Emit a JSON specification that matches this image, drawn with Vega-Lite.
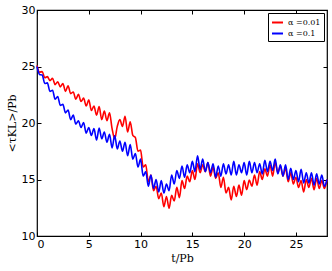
{
  "$schema": "https://vega.github.io/schema/vega-lite/v6.json",
  "width": 290,
  "height": 226,
  "autosize": {"type": "none"},
  "padding": {"left": 37, "top": 10, "right": 5, "bottom": 35},
  "background": "white",
  "config": {
    "view": {"stroke": "black", "strokeWidth": 1.2},
    "axis": {"grid": false, "domain": false, "tickColor": "black", "tickSize": -4, "labelColor": "black", "labelFont": "DejaVu Sans", "labelFontSize": 11, "titleFont": "DejaVu Serif", "titleFontSize": 11, "titleFontWeight": "normal", "titleColor": "black"}
  },
  "datasets": {
    "red": [
      [0,25.1],[0.25,24.5],[0.5,24.55],[0.75,24.0],[1,24.1],[1.25,23.75],[1.5,23.95],[1.75,23.4],[2,23.65],[2.25,23.2],[2.5,23.5],[2.75,22.8],[3,23.3],[3.25,22.6],[3.5,22.75],[3.75,22.1],[4,22.55],[4.25,21.9],[4.5,22.2],[4.75,21.5],[5,22.05],[5.25,21.1],[5.5,21.5],[5.75,20.7],[6,21.45],[6.25,20.3],[6.5,21.05],[6.75,20.2],[7,20.9],[7.25,19.5],[7.5,18.6],[7.75,19.7],[8,20.3],[8.25,19.7],[8.5,20.6],[8.75,19.2],[9,20.1],[9.25,18.9],[9.5,18.7],[9.75,17.5],[10,17.6],[10.25,16.1],[10.5,16.3],[10.75,14.8],[11,15.4],[11.25,14.0],[11.5,14.4],[11.75,13.3],[12,13.8],[12.25,12.6],[12.5,13.5],[12.75,12.45],[13,13.6],[13.25,13.1],[13.5,14.3],[13.75,13.4],[14,14.9],[14.25,14.2],[14.5,15.3],[14.75,14.8],[15,15.8],[15.25,15.0],[15.5,16.4],[15.75,15.6],[16,16.3],[16.25,15.7],[16.5,16.5],[16.75,15.3],[17,16.1],[17.25,15.1],[17.5,15.6],[17.75,14.3],[18,15.2],[18.25,13.8],[18.5,14.3],[18.75,13.2],[19,14.4],[19.25,13.5],[19.5,14.5],[19.75,13.6],[20,14.9],[20.25,14.1],[20.5,14.95],[20.75,14.4],[21,15.4],[21.25,14.5],[21.5,15.7],[21.75,15.0],[22,15.95],[22.25,15.3],[22.5,16.3],[22.75,15.3],[23,16.5],[23.25,15.6],[23.5,16.2],[23.75,15.3],[24,16.0],[24.25,14.8],[24.5,15.6],[24.75,14.6],[25,15.2],[25.25,14.3],[25.5,14.9],[25.75,13.9],[26,15.0],[26.25,14.3],[26.5,15.1],[26.75,14.1],[27,15.1],[27.25,14.2],[27.5,14.9],[27.75,14.2],[28,15.0]
    ],
    "blue": [
      [0,25.0],[0.25,24.3],[0.5,24.25],[0.75,23.5],[1,23.55],[1.25,22.8],[1.5,22.9],[1.75,22.1],[2,22.35],[2.25,21.55],[2.5,21.65],[2.75,20.9],[3,21.15],[3.25,20.3],[3.5,20.7],[3.75,19.9],[4,20.2],[4.25,19.6],[4.5,20.05],[4.75,19.1],[5,19.6],[5.25,18.9],[5.5,19.5],[5.75,18.5],[6,19.55],[6.25,18.6],[6.5,19.2],[6.75,18.3],[7,19.0],[7.25,17.8],[7.5,18.9],[7.75,17.7],[8,18.4],[8.25,17.5],[8.5,18.3],[8.75,17.1],[9,18.1],[9.25,16.8],[9.5,17.3],[9.75,16.1],[10,16.8],[10.25,15.3],[10.5,15.7],[10.75,14.4],[11,15.4],[11.25,14.2],[11.5,15.0],[11.75,13.9],[12,14.9],[12.25,13.8],[12.5,14.6],[12.75,14.0],[13,15.4],[13.25,14.6],[13.5,15.8],[13.75,15.1],[14,16.2],[14.25,15.2],[14.5,16.3],[14.75,15.6],[15,16.6],[15.25,15.7],[15.5,17.1],[15.75,15.9],[16,16.8],[16.25,15.7],[16.5,16.5],[16.75,15.6],[17,16.4],[17.25,15.2],[17.5,16.2],[17.75,15.3],[18,16.4],[18.25,15.5],[18.5,16.3],[18.75,15.4],[19,16.6],[19.25,15.4],[19.5,16.3],[19.75,15.6],[20,16.5],[20.25,15.4],[20.5,16.6],[20.75,15.6],[21,16.5],[21.25,15.6],[21.5,16.4],[21.75,15.5],[22,16.7],[22.25,15.7],[22.5,16.6],[22.75,15.8],[23,16.8],[23.25,15.5],[23.5,16.3],[23.75,15.3],[24,16.3],[24.25,15.0],[24.5,16.0],[24.75,15.0],[25,15.8],[25.25,14.8],[25.5,15.9],[25.75,14.7],[26,15.6],[26.25,14.7],[26.5,15.6],[26.75,14.5],[27,15.5],[27.25,14.6],[27.5,15.4],[27.75,14.4],[28,15.0]
    ]
  },
  "data": {"name": "red"},
  "transform": [
    {"calculate": "datum[0]", "as": "t"},
    {"calculate": "datum[1]", "as": "v"},
    {"calculate": "'α =0.01'", "as": "series"}
  ],
  "layer": [
    {
      "layer": [
        {
          "mark": {"type": "line", "strokeWidth": 1.6, "interpolate": "monotone"},
          "encoding": {
            "x": {"field": "t", "type": "quantitative", "scale": {"domain": [0, 28], "nice": false}, "axis": {"values": [0,5,10,15,20,25], "title": "t/Pb", "labelPadding": 6, "titlePadding": 3}},
            "y": {"field": "v", "type": "quantitative", "scale": {"domain": [10, 30], "nice": false, "zero": false}, "axis": {"values": [10,15,20,25,30], "title": "<τKL>/Pb", "labelPadding": 6, "titlePadding": 4}},
            "color": {"field": "series", "type": "nominal", "scale": {"domain": ["α =0.01", "α =0.1"], "range": ["#ff0000", "#0000ff"]}, "legend": {"title": null, "orient": "top-right", "offset": 3, "symbolType": "stroke", "symbolStrokeWidth": 2, "symbolSize": 120, "labelFont": "DejaVu Serif", "labelFontSize": 8, "strokeColor": "black", "fillColor": "white", "padding": 3, "rowPadding": 0, "cornerRadius": 0}}
          }
        },
        {
          "data": {"name": "blue"},
          "transform": [
            {"calculate": "datum[0]", "as": "t"},
            {"calculate": "datum[1]", "as": "v"},
            {"calculate": "'α =0.1'", "as": "series"}
          ],
          "mark": {"type": "line", "strokeWidth": 1.6, "interpolate": "monotone"},
          "encoding": {
            "x": {"field": "t", "type": "quantitative"},
            "y": {"field": "v", "type": "quantitative"},
            "color": {"field": "series", "type": "nominal"}
          }
        }
      ]
    },
    {
      "mark": {"type": "point", "opacity": 0},
      "encoding": {
        "x": {"field": "t", "type": "quantitative", "axis": {"orient": "top", "values": [0,5,10,15,20,25], "labels": false, "title": null}},
        "y": {"field": "v", "type": "quantitative", "axis": {"orient": "right", "values": [10,15,20,25,30], "labels": false, "title": null}}
      }
    }
  ],
  "resolve": {"axis": {"x": "independent", "y": "independent"}}
}
